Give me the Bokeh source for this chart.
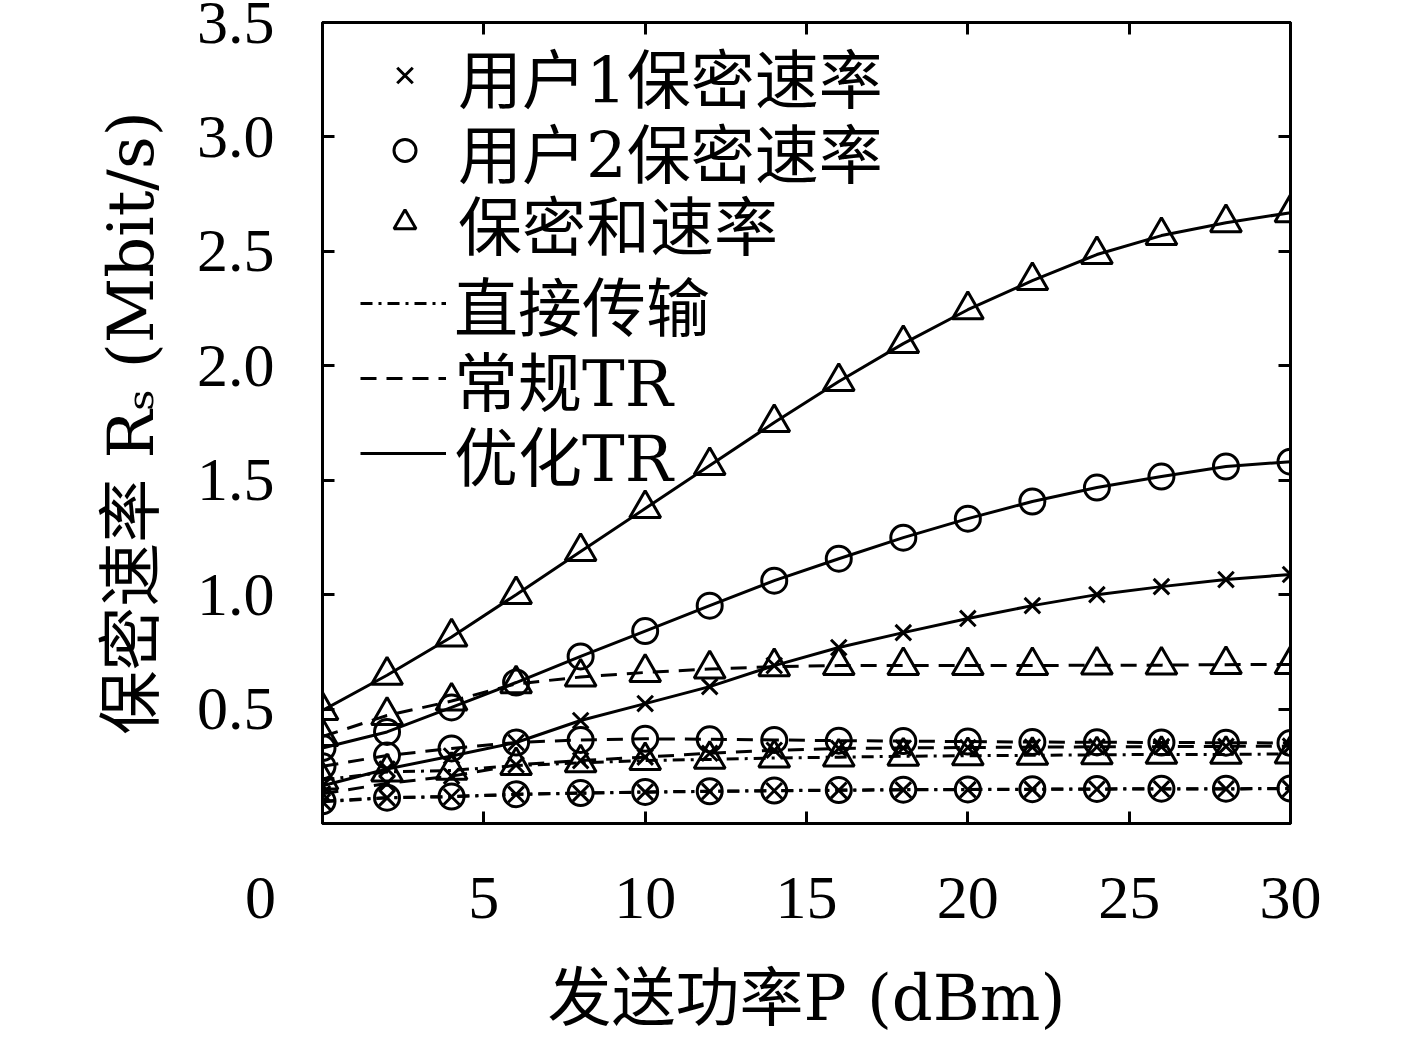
from bokeh.plotting import figure
from bokeh.models import (Legend, LegendItem, LinearAxis, FixedTicker,
                          Range1d, NumeralTickFormatter, CustomLabelingPolicy)
from bokeh.embed import file_html
from bokeh.resources import INLINE

# ---------------- data ----------------
power_dbm = [0, 2, 4, 6, 8, 10, 12, 14, 16, 18, 20, 22, 24, 26, 28, 30]

# 优化TR (solid)
opt_user1 = [0.165, 0.238, 0.295, 0.354, 0.450, 0.524, 0.598, 0.690, 0.769, 0.834,
             0.896, 0.952, 1.000, 1.035, 1.066, 1.088]
opt_user2 = [0.330, 0.400, 0.507, 0.616, 0.730, 0.841, 0.952, 1.061, 1.157, 1.249,
             1.332, 1.407, 1.468, 1.516, 1.560, 1.581]
opt_sum = [0.494, 0.648, 0.815, 1.000, 1.188, 1.376, 1.564, 1.752, 1.931, 2.097,
           2.245, 2.372, 2.486, 2.569, 2.625, 2.669]

# 常规TR (dashed)
conv_user1 = [0.130, 0.175, 0.207, 0.256, 0.275, 0.290, 0.307, 0.320, 0.328, 0.330,
              0.332, 0.334, 0.335, 0.336, 0.337, 0.338]
conv_user2 = [0.250, 0.297, 0.328, 0.354, 0.365, 0.370, 0.368, 0.365, 0.362, 0.360,
              0.358, 0.356, 0.355, 0.354, 0.353, 0.352]
conv_sum = [0.380, 0.472, 0.535, 0.610, 0.640, 0.660, 0.675, 0.685, 0.690, 0.690,
            0.690, 0.690, 0.692, 0.692, 0.694, 0.695]

# 直接传输 (dash-dot)
direct_user1 = [0.095, 0.112, 0.117, 0.127, 0.132, 0.137, 0.140, 0.143, 0.145, 0.147,
                0.148, 0.149, 0.150, 0.151, 0.151, 0.152]
direct_user2 = [0.097, 0.113, 0.118, 0.128, 0.133, 0.138, 0.141, 0.144, 0.146, 0.148,
                0.149, 0.150, 0.151, 0.152, 0.152, 0.153]
direct_sum = [0.190, 0.225, 0.232, 0.253, 0.265, 0.275, 0.280, 0.286, 0.290, 0.294,
              0.296, 0.298, 0.300, 0.302, 0.302, 0.304]

x_ticks = [0, 5, 10, 15, 20, 25, 30]
y_ticks = [0.5, 1.0, 1.5, 2.0, 2.5, 3.0, 3.5]

marker_labels = ["用户1保密速率", "用户2保密速率", "保密和速率"]
scheme_labels = ["直接传输", "常规TR", "优化TR"]

# ---------------- figure ----------------
LFONT = "DejaVu Serif, Noto Sans CJK SC"
TFONT = "Liberation Serif"
FS = "62px"
LFS = "64px"

W, H = 1409, 1043
FL, FT, FR, FB = 322, 22, 1290, 823   # frame edges in page pixels

p = figure(width=W, height=H, output_backend="svg", toolbar_location=None,
           x_range=Range1d(0, 30), y_range=Range1d(0, 3.5),
           min_border_left=FL, min_border_right=W - FR, min_border_top=FT,
           min_border_bottom=H - FB)
p.background_fill_color = "white"
p.border_fill_color = "white"
p.outline_line_color = "black"
p.outline_line_width = 3
p.xgrid.visible = False
p.ygrid.visible = False

black = "black"
schemes = [
    ("direct", direct_user1, direct_user2, direct_sum, "12 6 3 6"),
    ("conv", conv_user1, conv_user2, conv_sum, "16 10"),
    ("opt", opt_user1, opt_user2, opt_sum, "solid"),
]
markers = ["x", "circle", "triangle"]
msizes = [22, 25, 31]

line_renderers = []
marker_renderers = None
for name, u1, u2, s, dash in schemes:
    lr = None
    mrs = []
    for series, mk, ms in zip([u1, u2, s], markers, msizes):
        r = p.line(power_dbm, series, line_color=black, line_width=3, line_dash=dash)
        if lr is None:
            lr = r
        m = p.scatter(power_dbm, series, marker=mk, size=ms, line_color=black,
                      line_width=3, fill_color=None)
        mrs.append(m)
    line_renderers.append(lr)
    marker_renderers = mrs

# ---------------- axes ----------------
def style_axis(ax, ticks, show_labels):
    ax.ticker = FixedTicker(ticks=ticks)
    ax.axis_line_color = black
    ax.axis_line_width = 3
    ax.major_tick_line_color = black
    ax.major_tick_line_width = 3
    ax.major_tick_in = 12
    ax.major_tick_out = 0
    ax.minor_tick_line_color = None
    ax.major_label_text_font = TFONT
    ax.major_label_text_color = black
    if show_labels:
        ax.major_label_text_font_size = FS
    else:
        # tick marks only: no labels are kept on this axis
        ax.major_label_policy = CustomLabelingPolicy(code="return []")
        ax.major_label_text_font_size = "10px"
        ax.major_label_standoff = 0

style_axis(p.xaxis[0], x_ticks, True)
style_axis(p.yaxis[0], y_ticks, True)
p.yaxis[0].formatter = NumeralTickFormatter(format="0.0")
# the origin "0" of the reference sits left of the corner: pad it with no-break spaces
p.xaxis[0].major_label_overrides = {0: "0" + "\u00a0" * 8}
p.xaxis[0].major_label_standoff = 39
p.yaxis[0].major_label_standoff = 48

p.xaxis[0].axis_label = "发送功率P (dBm)"
p.yaxis[0].axis_label = "保密速率 R\u209b (Mbit/s)"
for ax in (p.xaxis[0], p.yaxis[0]):
    ax.axis_label_text_font = LFONT
    ax.axis_label_text_font_size = LFS
    ax.axis_label_text_font_style = "normal"
    ax.axis_label_text_color = black
p.xaxis[0].axis_label_standoff = 27
p.yaxis[0].axis_label_standoff = 26

top_ax = LinearAxis()
style_axis(top_ax, x_ticks[1:], False)
p.add_layout(top_ax, "above")
right_ax = LinearAxis()
style_axis(right_ax, y_ticks, False)
p.add_layout(right_ax, "right")

# ---------------- legends (one per row so each row sits where the reference has it) ----
def add_row(label, renderer, left, centre, glyph_w, standoff):
    LH = 100
    top = centre - LH / 2
    bottom = top + LH
    leg = Legend(items=[LegendItem(label=label, renderers=[renderer])],
                 location=(left - FL, FB - bottom), orientation="vertical",
                 glyph_width=glyph_w, glyph_height=LH, label_height=LH,
                 label_standoff=standoff, spacing=0, padding=0, margin=0,
                 label_text_font=LFONT, label_text_font_size=LFS,
                 label_text_color=black, border_line_color=None,
                 background_fill_alpha=0)
    p.add_layout(leg, "center")

marker_centres = [75, 150, 222]
for lab, r, c in zip(marker_labels, marker_renderers, marker_centres):
    add_row(lab, r, 377, c, 55, 26)

line_centres = [303, 378, 453]
for lab, r, c in zip(scheme_labels, line_renderers, line_centres):
    add_row(lab, r, 360, c, 86, 8)

open("out.html", "w").write(file_html(p, INLINE))
